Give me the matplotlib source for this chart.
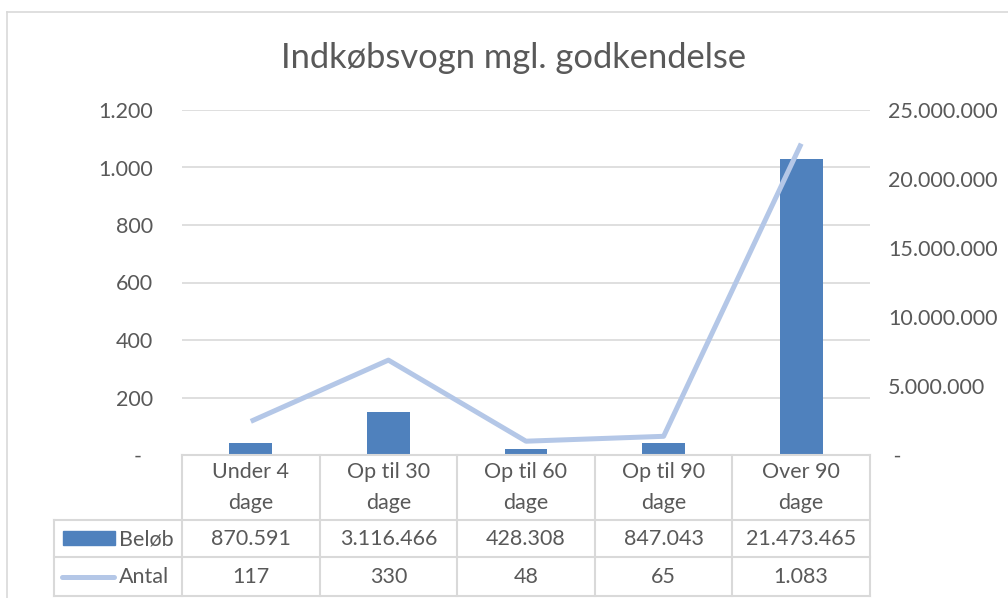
import matplotlib
matplotlib.use("Agg")
import matplotlib.pyplot as plt
from matplotlib.transforms import blended_transform_factory
from matplotlib.patches import Rectangle
from matplotlib.lines import Line2D
from matplotlib.ticker import FuncFormatter, MultipleLocator

categories = ["Under 4\ndage", "Op til 30\ndage", "Op til 60\ndage", "Op til 90\ndage", "Over 90\ndage"]
beloeb = [870591, 3116466, 428308, 847043, 21473465]
antal = [117, 330, 48, 65, 1083]

W, H = 1008, 598
TXT = "#595959"
GRID = "#D9D9D9"
BAR = "#4F81BD"
LINE = "#B4C7E7"
FS = 15.5

plt.rcParams['font.family'] = ['Lato', 'DejaVu Sans']


def dk(v):
    return f"{int(round(v)):,}".replace(",", ".")


def fx(px):
    return px / W


def fy(px):
    return 1 - px / H


fig = plt.figure(figsize=(W / 100, H / 100), dpi=100)

# chart frame
fig.add_artist(Line2D([fx(7), fx(7)], [fy(12), 0], color=GRID, lw=1.2))
fig.add_artist(Line2D([fx(7), 1], [fy(12), fy(12)], color=GRID, lw=1.2))

fig.text(fx(514), fy(58), "Indkøbsvogn mgl. godkendelse", ha="center", va="center",
         fontsize=24.8, color=TXT)

ax = fig.add_axes([fx(182), fy(455), fx(870) - fx(182), (455 - 110) / H])
ax.set_xlim(-0.5, 4.5)
ax.set_ylim(0, 1200)
ax.yaxis.set_major_locator(MultipleLocator(200))
ax.yaxis.set_major_formatter(FuncFormatter(lambda v, p: "-  " if v == 0 else dk(v)))
ax.grid(axis="y", color=GRID, lw=1.2)
ax.set_axisbelow(True)
ax.set_xticks([])
ax.tick_params(axis="y", length=0, pad=21, labelsize=FS, labelcolor=TXT)
for s in ax.spines.values():
    s.set_visible(False)

axb = ax.twinx()
x = list(range(len(categories)))
axb.bar(x, beloeb, width=0.31, color=BAR)
axb.set_ylim(0, 25000000)
axb.yaxis.set_major_locator(MultipleLocator(5000000))
axb.yaxis.set_major_formatter(FuncFormatter(lambda v, p: " -" if v == 0 else dk(v)))
axb.tick_params(axis="y", length=0, pad=13, labelsize=FS, labelcolor=TXT)
for s in axb.spines.values():
    s.set_visible(False)

axl = ax.twinx()
axl.set_ylim(0, 1200)
axl.plot(x, antal, color=LINE, lw=3.6, solid_joinstyle="round", solid_capstyle="butt")
axl.set_axis_off()

# data table
tr = blended_transform_factory(ax.transData, fig.transFigure)
leg_left = -0.5 + (54 - 182) / ((870 - 182) / 5)
rows = [455, 520, 557, 596]
kw = dict(transform=tr, color=GRID, lw=1.5, clip_on=False)
fig.add_artist(Line2D([-0.5, 4.5], [fy(455), fy(455)], **kw))
for r in rows[1:]:
    fig.add_artist(Line2D([leg_left, 4.5], [fy(r), fy(r)], **kw))
for i in range(len(categories) + 1):
    fig.add_artist(Line2D([i - 0.5, i - 0.5], [fy(455), fy(596)], **kw))
fig.add_artist(Line2D([leg_left, leg_left], [fy(520), fy(596)], **kw))

for i, c in enumerate(categories):
    top, bottom = c.split("\n")
    fig.text(i, fy(472), top, transform=tr, ha="center", va="center", fontsize=FS, color=TXT)
    fig.text(i, fy(503), bottom, transform=tr, ha="center", va="center", fontsize=FS, color=TXT)
    fig.text(i, fy(539), dk(beloeb[i]), transform=tr, ha="center", va="center",
             fontsize=FS, color=TXT)
    fig.text(i, fy(577), dk(antal[i]), transform=tr, ha="center", va="center",
             fontsize=FS, color=TXT)

# legend keys inside table
fig.add_artist(Rectangle((fx(63), fy(545)), fx(115) - fx(63), (545 - 531) / H,
                         transform=fig.transFigure, color=BAR))
fig.text(fx(119), fy(539), "Beløb", ha="left", va="center", fontsize=FS, color=TXT)
fig.add_artist(Line2D([fx(62), fx(114)], [fy(577), fy(577)], color=LINE, lw=3.6,
                      solid_capstyle="round"))
fig.text(fx(119), fy(577), "Antal", ha="left", va="center", fontsize=FS, color=TXT)

fig.savefig("out.png", dpi=100)
